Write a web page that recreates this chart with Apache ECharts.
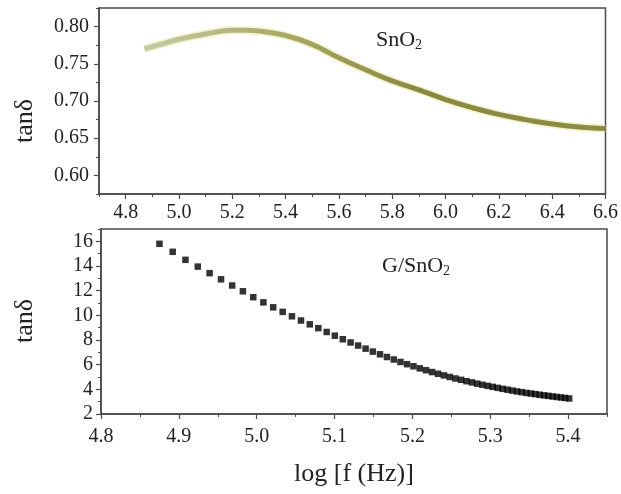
<!DOCTYPE html>
<html>
<head>
<meta charset="utf-8">
<title>tan delta</title>
<script src="https://cdn.jsdelivr.net/npm/echarts@6/dist/echarts.min.js"></script>
<style>
html, body { margin: 0; padding: 0; background: #fff; }
#chart { width: 621px; height: 494px; }
</style>
</head>
<body>
<div id="chart"></div>
<script>
// SnO2 panel (top) - log f vs tan delta
var snoLogF = [4.87, 4.95, 5.0, 5.1, 5.2, 5.25, 5.3, 5.4, 5.5, 5.6, 5.7, 5.8, 5.9, 6.0, 6.1, 6.2, 6.3, 6.4, 6.5, 6.6];
var snoTan = [0.770, 0.778, 0.783, 0.790, 0.795, 0.795, 0.794, 0.788, 0.776, 0.758, 0.742, 0.727, 0.715, 0.702, 0.691, 0.682, 0.675, 0.669, 0.665, 0.663];

// G/SnO2 panel (bottom)
var gLogF = [4.8751, 4.8921, 4.9085, 4.9243, 4.9395, 4.9542, 4.9685, 4.9823, 4.9956, 5.0086,
    5.0212, 5.0334, 5.0453, 5.0569, 5.0682, 5.0792, 5.0899, 5.1004, 5.1106, 5.1206,
    5.1303, 5.1399, 5.1492, 5.1584, 5.1673, 5.1761, 5.1847, 5.1931, 5.2014, 5.2095,
    5.2175, 5.2253, 5.2330, 5.2405, 5.2480, 5.2553, 5.2625, 5.2695, 5.2765, 5.2833,
    5.2900, 5.2967, 5.3032, 5.3096, 5.3160, 5.3222, 5.3284, 5.3345, 5.3404, 5.3464,
    5.3522, 5.3579, 5.3636, 5.3692, 5.3747, 5.3802, 5.3856, 5.3909, 5.3962, 5.4014];
var gTan = [15.8, 15.15, 14.5, 13.95, 13.42, 12.92, 12.42, 11.95, 11.47, 11.05,
    10.65, 10.28, 9.92, 9.58, 9.27, 8.96, 8.65, 8.35, 8.06, 7.8,
    7.55, 7.3, 7.06, 6.84, 6.62, 6.42, 6.22, 6.04, 5.87, 5.7,
    5.55, 5.4, 5.26, 5.13, 5.0, 4.88, 4.77, 4.66, 4.56, 4.46,
    4.37, 4.28, 4.2, 4.12, 4.04, 3.97, 3.9, 3.83, 3.77, 3.71,
    3.66, 3.61, 3.56, 3.51, 3.47, 3.42, 3.38, 3.34, 3.3, 3.26];

// tick labels
var topXTicks = [4.8, 5.0, 5.2, 5.4, 5.6, 5.8, 6.0, 6.2, 6.4, 6.6];
var topYTicks = [0.60, 0.65, 0.70, 0.75, 0.80];
var botXTicks = [4.8, 4.9, 5.0, 5.1, 5.2, 5.3, 5.4];
var botYTicks = [2, 4, 6, 8, 10, 12, 14, 16];

var serif = '"Liberation Serif", "DejaVu Serif", serif';
var axisCol = '#4a4a4a';
var textCol = '#222';

function zip(a, b) {
    return a.map(function (v, i) { return [v, b[i]]; });
}

// main axis with labels at given values
function mainAxis(grid, pos, min, max, ticks, digits, margin) {
    return {
        type: 'value', gridIndex: grid, position: pos, min: min, max: max,
        axisLine: { show: true, onZero: false, lineStyle: { color: axisCol, width: 1.5 } },
        axisTick: { show: true, length: 5, customValues: ticks, lineStyle: { color: axisCol, width: 1.2 } },
        axisLabel: {
            customValues: ticks, margin: margin, color: textCol,
            fontFamily: serif, fontSize: 20,
            formatter: function (v) { return v.toFixed(digits); }
        },
        splitLine: { show: false }
    };
}
// extra axis only for minor ticks
function minorAxis(grid, pos, min, max, step) {
    return {
        type: 'value', gridIndex: grid, position: pos, min: min, max: max, interval: step,
        axisLine: { show: false, onZero: false },
        axisTick: { show: true, length: 3, lineStyle: { color: axisCol, width: 1 } },
        axisLabel: { show: false },
        splitLine: { show: false }
    };
}

var chart = echarts.init(document.getElementById('chart'));

var xTopMain = mainAxis(0, 'bottom', 4.7, 6.6, topXTicks, 1, 9);
var xBotMain = mainAxis(1, 'bottom', 4.8, 5.45, botXTicks, 1, 13);
xBotMain.name = 'log [f (Hz)]';
xBotMain.nameLocation = 'middle';
xBotMain.nameGap = 47;
xBotMain.nameTextStyle = { fontFamily: serif, fontSize: 26, color: textCol };

var option = {
    backgroundColor: '#fff',
    animation: false,
    grid: [
        { left: 99, top: 8, width: 508, height: 186, show: true, borderColor: axisCol, borderWidth: 1.5 },
        { left: 101, top: 229, width: 506, height: 185, show: true, borderColor: axisCol, borderWidth: 1.5 }
    ],
    xAxis: [
        xTopMain,
        minorAxis(0, 'bottom', 4.7, 6.6, 0.1),
        xBotMain,
        minorAxis(1, 'bottom', 4.8, 5.45, 0.05)
    ],
    yAxis: [
        mainAxis(0, 'left', 0.575, 0.825, topYTicks, 2, 10),
        minorAxis(0, 'left', 0.575, 0.825, 0.025),
        mainAxis(1, 'left', 2, 17, botYTicks, 0, 8),
        minorAxis(1, 'left', 2, 17, 1)
    ],
    graphic: [
        {
            type: 'text', x: 25, y: 121, rotation: Math.PI / 2,
            style: { text: 'tanδ', font: '26px ' + serif, fill: textCol, textAlign: 'center', textVerticalAlign: 'middle' }
        },
        {
            type: 'text', x: 25, y: 321, rotation: Math.PI / 2,
            style: { text: 'tanδ', font: '26px ' + serif, fill: textCol, textAlign: 'center', textVerticalAlign: 'middle' }
        },
        {
            type: 'text', x: 376, y: 28,
            style: {
                text: '{a|SnO}{b|2}', fill: textCol,
                rich: {
                    a: { fontFamily: serif, fontSize: 22, color: textCol },
                    b: { fontFamily: serif, fontSize: 14, color: textCol, padding: [10, 0, 0, 0] }
                }
            }
        },
        {
            type: 'text', x: 382, y: 254,
            style: {
                text: '{a|G/SnO}{b|2}', fill: textCol,
                rich: {
                    a: { fontFamily: serif, fontSize: 22, color: textCol },
                    b: { fontFamily: serif, fontSize: 14, color: textCol, padding: [10, 0, 0, 0] }
                }
            }
        }
    ],
    series: [
        {
            // halo under the olive curve
            type: 'line', xAxisIndex: 0, yAxisIndex: 0,
            data: zip(snoLogF, snoTan), smooth: true, showSymbol: false,
            lineStyle: { width: 8, color: 'rgba(232,232,150,0.5)' }
        },
        {
            type: 'line', xAxisIndex: 0, yAxisIndex: 0,
            data: zip(snoLogF, snoTan), smooth: true, showSymbol: false,
            lineStyle: {
                width: 5,
                color: {
                    type: 'linear', x: 0, y: 0, x2: 1, y2: 0,
                    colorStops: [
                        { offset: 0, color: '#c4cba6' },
                        { offset: 0.3, color: '#a9aa68' },
                        { offset: 0.6, color: '#8a8842' },
                        { offset: 1, color: '#8d8c45' }
                    ]
                }
            }
        },
        {
            type: 'scatter', xAxisIndex: 2, yAxisIndex: 2,
            data: zip(gLogF, gTan), symbol: 'rect', symbolSize: 6.5,
            itemStyle: { color: '#000' }
        }
    ]
};

chart.setOption(option);
</script>
</body>
</html>
